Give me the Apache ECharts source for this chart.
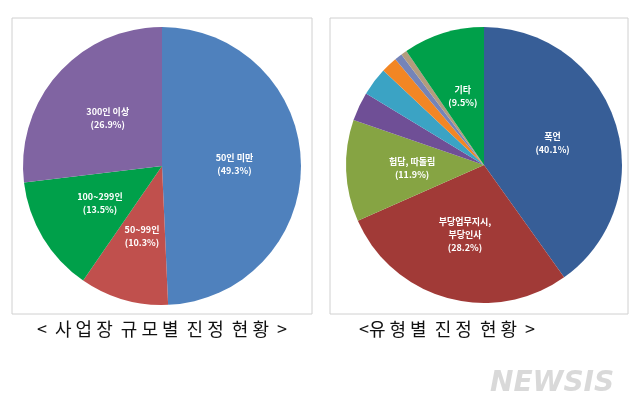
<!DOCTYPE html>
<html><head><meta charset="utf-8">
<script src="https://cdn.jsdelivr.net/npm/echarts@6/dist/echarts.min.js"></script>
<style>html,body{margin:0;padding:0;background:#fff}#c{width:640px;height:417px}</style>
</head><body><div id="c"></div>
<script>
// 사업장 규모별
const sizeNames = ['50인 미만', '50~99인', '100~299인', '300인 이상'];
const sizeValues = [49.3, 10.3, 13.5, 26.9];
const sizeColors = ['#4f81bd', '#c0504d', '#00a04a', '#8064a2'];
// 유형별
const typeNames = ['폭언', '부당업무지시,\n부당인사', '험담, 따돌림', '기타1', '기타2', '기타3', '기타4', '기타5', '기타'];
const typeValues = [40.1, 28.2, 11.9, 3.4, 3.3, 1.9, 0.9, 0.7, 9.5];
const typeColors = ['#375e97', '#a13a37', '#86a443', '#6f4f96', '#3ba3c4', '#f28624', '#7584b8', '#b39c7d', '#00a04a'];
const typeLabeled = ['폭언', '부당업무지시,\n부당인사', '험담, 따돌림', '기타'];

const chart = echarts.init(document.getElementById('c'));
const lbl = {
  position: 'inside', color: '#fff', fontSize: 9, fontWeight: 'bold', lineHeight: 13,
  fontFamily: 'Noto Sans CJK KR'
};
const titleStyle = { fontSize: 18, fill: '#111', fontFamily: 'Noto Sans CJK KR', align: 'center' };
chart.setOption({
  animation: false,
  graphic: [
    { type: 'rect', shape: { x: 12, y: 18, width: 300, height: 296 }, style: { fill: 'none', stroke: '#d0d0d0', lineWidth: 1 } },
    { type: 'rect', shape: { x: 330, y: 18, width: 298, height: 296 }, style: { fill: 'none', stroke: '#d0d0d0', lineWidth: 1 } },
    { type: 'text', x: 162, y: 320, style: Object.assign({ text: '<  사 업 장  규 모 별  진 정  현 황  >' }, titleStyle) },
    { type: 'text', x: 447, y: 320, style: Object.assign({ text: '<유 형 별  진 정  현 황  >' }, titleStyle) },
    { type: 'text', left: 490, top: 370, style: { text: 'NEWSIS', fontSize: 28, fontWeight: 'bold', fontStyle: 'italic', fill: 'rgba(170,170,170,0.45)', fontFamily: 'DejaVu Sans' } }
  ],
  series: [
    {
      type: 'pie', center: [162, 166], radius: 139, startAngle: 90, clockwise: true,
      label: Object.assign({ formatter: p => p.name + '\n(' + p.value + '%)' }, lbl),
      labelLine: { show: false },
      data: sizeNames.map((n, i) => ({ name: n, value: sizeValues[i], itemStyle: { color: sizeColors[i] } }))
    },
    {
      type: 'pie', center: [484, 165], radius: 138, startAngle: 90, clockwise: true,
      label: Object.assign({ formatter: p => typeLabeled.includes(p.name) ? p.name + '\n(' + p.value + '%)' : '' }, lbl),
      labelLine: { show: false },
      data: typeNames.map((n, i) => ({ name: n, value: typeValues[i], itemStyle: { color: typeColors[i] } }))
    }
  ]
});
</script></body></html>
